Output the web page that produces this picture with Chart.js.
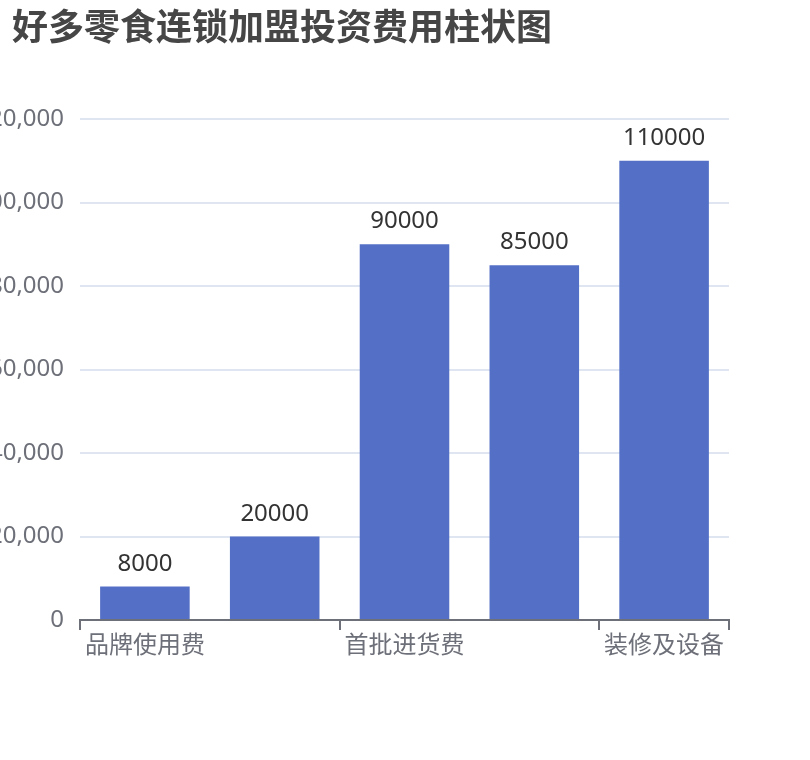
<!DOCTYPE html>
<html>
<head>
<meta charset="utf-8">
<title>好多零食连锁加盟投资费用柱状图</title>
<script src="https://cdn.jsdelivr.net/npm/chart.js@4.4.1/dist/chart.umd.min.js"></script>
<style>
  html, body { margin: 0; padding: 0; background: #fff; }
  #wrap { width: 810px; height: 760px; position: relative; }
</style>
</head>
<body>

<div id="wrap"><canvas id="myChart"></canvas></div>

<script>
    // categories (odd ones are hidden on the axis, like the original)
    const categories = ["品牌使用费", "加盟保证金", "首批进货费", "店铺租金", "装修及设备"];
    // investment cost per item
    const costValues = [8000, 20000, 90000, 85000, 110000];
    // y axis range
    const yMax = 120000;
    const yStep = 20000;
    const chartTitle = "好多零食连锁加盟投资费用柱状图";

    const labelFont = "'Noto Sans', 'Noto Sans CJK SC', sans-serif";

    // draws the value above each bar
    const barValueLabels = {
        id: "barValueLabels",
        afterDatasetsDraw(chart) {
            const ctx = chart.ctx;
            ctx.save();
            ctx.font = "24px " + labelFont;
            ctx.fillStyle = "#333";
            ctx.textAlign = "center";
            ctx.textBaseline = "alphabetic";
            chart.getDatasetMeta(0).data.forEach(function(bar, i) {
                ctx.fillText(String(costValues[i]), bar.x, bar.y - 16);
            });
            ctx.restore();
        }
    };

    // title drawn top-left (the built-in one can't be inset from the edge)
    const topTitle = {
        id: "topTitle",
        afterDraw(chart) {
            const ctx = chart.ctx;
            ctx.save();
            ctx.font = "bold 36px 'Noto Sans CJK SC', sans-serif";
            ctx.fillStyle = "#464646";
            ctx.textAlign = "left";
            ctx.textBaseline = "middle";
            ctx.fillText(chartTitle, 12, 26);
            ctx.restore();
        }
    };

    new Chart("myChart", {
        type: "bar",
        data: {
            labels: categories,
            datasets: [{
                data: costValues,
                backgroundColor: "#5470c6",
                categoryPercentage: 1,
                barPercentage: 0.69
            }]
        },
        plugins: [barValueLabels, topTitle],
        options: {
            responsive: true,
            maintainAspectRatio: false,
            animation: false,
            layout: { padding: { left: 0, right: 81, top: 119, bottom: 0 } },
            plugins: {
                legend: { display: false },
                tooltip: { enabled: false },
                title: { display: false }
            },
            scales: {
                x: {
                    offset: true,
                    afterFit: function(s) { s.height = 140; },
                    border: { display: true, color: "#6E7079", width: 2 },
                    grid: {
                        offset: true,
                        drawOnChartArea: false,
                        drawTicks: true,
                        tickLength: 10,
                        lineWidth: 2,
                        // only show tick marks next to the shown labels
                        color: function(c) {
                            if (c.type !== "tick" || c.index % 2 === 0) return "#6E7079";
                            return "rgba(0,0,0,0)";
                        }
                    },
                    ticks: {
                        autoSkip: false,
                        maxRotation: 0,
                        padding: 2,
                        color: "#6E7079",
                        font: { family: labelFont, size: 24 },
                        callback: function(v, i) { return i % 2 === 0 ? categories[i] : ""; }
                    }
                },
                y: {
                    min: 0,
                    max: yMax,
                    afterFit: function(s) { s.width = 80; },
                    border: { display: false },
                    grid: { color: "#E0E6F1", lineWidth: 2, drawTicks: false },
                    ticks: {
                        stepSize: yStep,
                        padding: 16,
                        color: "#6E7079",
                        font: { family: labelFont, size: 24 }
                    }
                }
            }
        }
    });
</script>

</body>
</html>
